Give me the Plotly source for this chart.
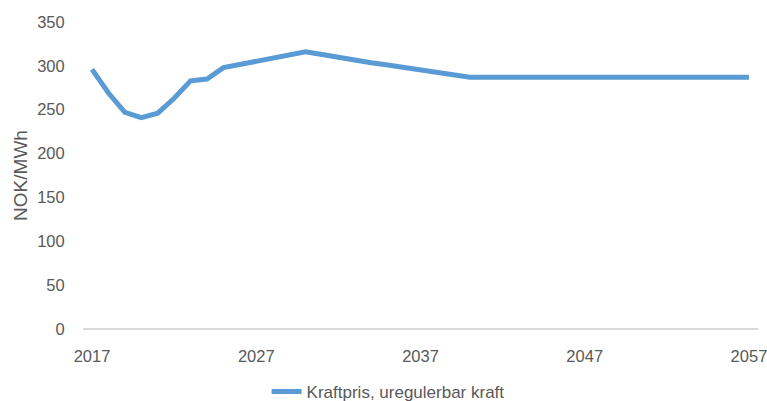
import plotly.graph_objects as go

years = list(range(2017, 2058))
price = [296, 269, 247, 241, 246, 263, 283, 285, 298, 301.5,
         305, 308.5, 312.5, 316, 313, 309.5, 306.5, 303.5, 301, 298,
         295, 292, 289, 287] + [287] * 17
series_name = "Kraftpris, uregulerbar kraft"
x_ticks = [2017, 2027, 2037, 2047, 2057]
y_ticks = [0, 50, 100, 150, 200, 250, 300, 350]

FONT = "Liberation Sans, Arial, sans-serif"
GRAY = "#595959"

fig = go.Figure()
fig.add_trace(go.Scatter(
    x=years, y=price, mode="lines", name=series_name,
    line=dict(color="#5B9BD5", width=5, shape="linear"),
))

fig.update_layout(
    width=767, height=401,
    margin=dict(l=83, r=9, t=22, b=72, autoexpand=False),
    paper_bgcolor="white", plot_bgcolor="white",
    font=dict(family=FONT, color=GRAY, size=16.5),
    showlegend=True,
    legend=dict(orientation="h", x=0.452, xanchor="center", y=-0.205, yanchor="middle",
                font=dict(size=17, color=GRAY), bgcolor="rgba(0,0,0,0)"),
    xaxis=dict(range=[2016.45, 2057.55], tickvals=x_ticks, ticktext=[str(v) for v in x_ticks],
               showgrid=False, zeroline=False, showline=False, automargin=False,
               ticklabeloverflow="allow",
               ticks="outside", ticklen=12, tickcolor="rgba(0,0,0,0)",
               tickfont=dict(size=16.5, color=GRAY)),
    yaxis=dict(range=[0, 350], tickvals=y_ticks, showgrid=False, zeroline=True,
               zerolinecolor="#D9D9D9", zerolinewidth=1.5, automargin=False,
               showline=False, ticks="outside", ticklen=14, tickcolor="rgba(0,0,0,0)",
               tickfont=dict(size=16.5, color=GRAY),
               title=dict(text="NOK/MWh", font=dict(size=19, color=GRAY), standoff=4)),
)

fig.write_html("out.html", config={"displayModeBar": False},
               post_script="document.body.style.margin='0';document.body.style.overflow='hidden';")
